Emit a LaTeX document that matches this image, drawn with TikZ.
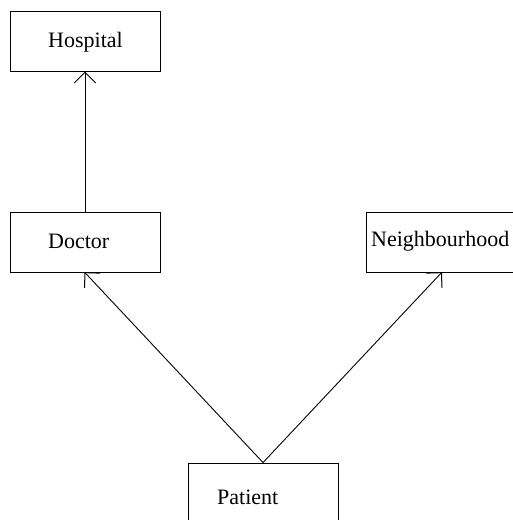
\documentclass[tikz,border=0pt]{standalone}
\usepackage{fontspec}
\setmainfont{Liberation Serif}
\usetikzlibrary{calc}
\tikzset{
  every node/.style={font=\fontsize{22}{26}\selectfont},
  B/.style={draw, line width=0.9pt, minimum width=150pt, minimum height=60pt, inner sep=0pt},
  T/.style={anchor=base west, inner sep=0pt},
  AR/.style={line width=0.9pt, black},
  HD/.style={line width=1pt, black, line cap=round, line join=round},
}
%% open V head drawn by hand at the target end
\newcommand{\upflow}[2]{%
  \draw[AR] (#1.north) -- (#2.south);
  \draw[HD] ($(#2.south)!15pt!45:(#1.north)$) -- (#2.south) -- ($(#2.south)!15pt!-45:(#1.north)$);}

\begin{document}
\begin{tikzpicture}[x=1pt, y=1pt, yscale=-1]
\useasboundingbox (0,0) rectangle (513,520);
\clip (0,0) rectangle (513,520);

%% boxes
\node[B] (HOSP) at (85,41.8) {};
\node[B] (DOC)  at (85,242.2) {};
\node[B] (NBH)  at (441.5,242.2) {};
\node[B, minimum height=64pt] (PAT) at (263,495) {};

%% labels
\node[T] (HOSPt) at (48,47) {Hospital};
\node[T] (DOCt)  at (48,248) {Doctor};
\node[T] (NBHt)  at (371,246.7) {Neighbourhood};
\node[T] (PATt)  at (217,504) {Patient};

%% links
\upflow{DOC}{HOSP}
\upflow{PAT}{DOC}
\upflow{PAT}{NBH}

\end{tikzpicture}
\end{document}
